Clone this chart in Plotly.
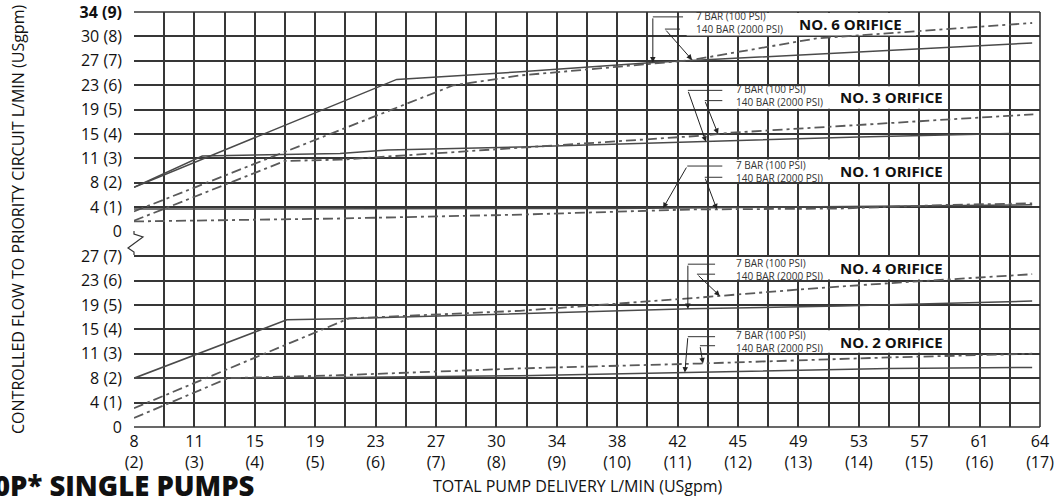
import numpy as np
import plotly.graph_objects as go

# ---------------- data (USgpm) ----------------
x_gpm_ticks = list(range(2, 18))
x_lpm_labels = ["8", "11", "15", "19", "23", "27", "30", "34", "38", "42",
                "45", "49", "53", "57", "61", "64"]
y_up_ticks = list(range(0, 10))
y_up_lpm = ["0", "4", "8", "11", "15", "19", "23", "27", "30", "34"]
y_low_ticks = list(range(0, 8))
y_low_lpm = ["0", "4", "8", "11", "15", "19", "23", "27"]

# upper panel: No. 6, No. 3, No. 1 orifices
no6_7bar_x = [2, 6.35, 8.4, 10.66, 16.87]
no6_7bar_y = [1.82, 6.24, 6.55, 6.94, 7.73]
no6_140bar_x = [2, 7.28, 8.39, 10.6, 11.2, 13.3, 16.87]
no6_140bar_y = [0.83, 5.99, 6.4, 6.9, 7.02, 7.92, 8.55]

no3_7bar_x = [2, 3.13, 5.41, 6.2, 8.39, 11.4, 14.0, 16.5]
no3_7bar_y = [1.82, 3.10, 3.2, 3.35, 3.47, 3.68, 3.88, 4.02]
no3_140bar_x = [2, 4.5, 5.41, 8.39, 11.37, 11.86, 16.89]
no3_140bar_y = [0.45, 2.9, 2.95, 3.45, 3.93, 4.05, 4.81]

no1_7bar_x = [2, 10.0, 16.87]
no1_7bar_y = [0.93, 0.95, 1.1]
no1_140bar_x = [2, 5.4, 8.4, 11.2, 13.7, 15.5, 16.87]
no1_140bar_y = [0.42, 0.54, 0.70, 0.91, 0.95, 1.1, 1.16]

# lower panel: No. 4, No. 2 orifices
no4_7bar_x = [2, 4.53, 5.41, 8.39, 11.2, 13.7, 16.87]
no4_7bar_y = [2.0, 4.39, 4.43, 4.63, 4.84, 4.96, 5.16]
no4_140bar_x = [2, 5.56, 8.39, 11.25, 13.1, 14.5, 16.87]
no4_140bar_y = [0.77, 4.45, 4.76, 5.28, 5.65, 5.89, 6.26]

no2_7bar_x = [2, 5.41, 8.39, 11.37, 14.5, 16.87]
no2_7bar_y = [2.0, 2.03, 2.1, 2.24, 2.4, 2.44]
no2_140bar_x = [2, 3.56, 5.41, 8.39, 11.37, 14.5, 16.87]
no2_140bar_y = [0.37, 2.0, 2.12, 2.4, 2.6, 2.85, 3.0]

# ---------------- styling ----------------
FONT = "Open Sans"
GRID = "#363636"
LINE = "#4a4a4a"
DASHDOT = "10px,4px,3px,4px"
W, H = 1055, 497
PL, PT, PR, PB = 134, 12, 1040, 427  # plot area in window pixels
ML, MT = PL, PT
PW, PH = PR - PL, PB - PT
MR, MB = W - ML - PW, H - MT - PH

fig = go.Figure()

panels = [
    ("y2", no6_7bar_x, no6_7bar_y, no6_140bar_x, no6_140bar_y),
    ("y2", no3_7bar_x, no3_7bar_y, no3_140bar_x, no3_140bar_y),
    ("y2", no1_7bar_x, no1_7bar_y, no1_140bar_x, no1_140bar_y),
    ("y", no4_7bar_x, no4_7bar_y, no4_140bar_x, no4_140bar_y),
    ("y", no2_7bar_x, no2_7bar_y, no2_140bar_x, no2_140bar_y),
]
for yax, sx, sy, dx, dy in panels:
    fig.add_trace(go.Scatter(x=sx, y=sy, yaxis=yax, mode="lines",
                             line=dict(color=LINE, width=1.5), showlegend=False,
                             hoverinfo="skip"))
    fig.add_trace(go.Scatter(x=dx, y=dy, yaxis=yax, mode="lines",
                             line=dict(color="#5a5a5a", width=1.8, dash=DASHDOT),
                             showlegend=False, hoverinfo="skip"))

shapes = []
annotations = []

labels = [
    ("y2", 11.15, 14.95, 8, 11.28, 12.98, "NO. 6 ORIFICE", 8.8, 8.3,
     (11.09, 10.59, 10.59), (11.04, 10.79, 11.24), 0),
    ("y2", 11.75, 15.45, 5, 11.95, 13.66, "NO. 3 ORIFICE", 5.79, 5.37,
     (11.74, 11.17, 11.47), (11.74, 11.45, 11.67), 1),
    ("y2", 11.75, 15.45, 2, 11.95, 13.66, "NO. 1 ORIFICE", 2.69, 2.23,
     (11.74, 11.16, 10.76), (11.74, 11.45, 11.65), 2),
    ("y", 11.75, 15.45, 6, 11.95, 13.66, "NO. 4 ORIFICE", 6.67, 6.26,
     (11.62, 11.17, 11.17), (11.62, 11.32, 11.70), 3),
    ("y", 11.75, 15.45, 3, 11.95, 13.66, "NO. 2 ORIFICE", 3.70, 3.33,
     (11.62, 11.17, 11.12), (11.62, 11.37, 11.42), 4),
]
for (yax, bx0, bx1, row, sx_t, bx_t, lab, y7, y140, l7, l140, idx) in labels:
    shapes.append(dict(type="rect", xref="x", yref=yax, x0=bx0, x1=bx1,
                       y0=row + 0.04, y1=row + 0.96, fillcolor="white",
                       line=dict(width=0), layer="between"))
    annotations.append(dict(xref="x", yref=yax, x=sx_t, y=(y7 + y140) / 2,
                            text="7 BAR (100 PSI)<br>140 BAR (2000 PSI)",
                            showarrow=False, xanchor="left", yanchor="middle",
                            align="left", borderpad=0,
                            font=dict(family=FONT, size=10, color="#333")))
    annotations.append(dict(xref="x", yref=yax, x=bx_t, y=row + 0.5,
                            text="<b>" + lab + "</b>", showarrow=False,
                            xanchor="left", yanchor="middle",
                            font=dict(family=FONT, size=15, color="#111")))
    _, sx, sy, dx, dy = panels[idx]
    for (xa, xb, xt), ty, cx, cy in ((l7, y7, sx, sy), (l140, y140, dx, dy)):
        shapes.append(dict(type="line", xref="x", yref=yax, x0=xa, x1=xb,
                           y0=ty, y1=ty, line=dict(color="#333", width=1)))
        annotations.append(dict(xref="x", yref=yax, axref="x", ayref=yax,
                                x=xt, y=float(np.interp(xt, cx, cy)),
                                ax=xb, ay=ty, text="", showarrow=True,
                                arrowhead=2, arrowsize=1.1, arrowwidth=1,
                                arrowcolor="#222", standoff=0))


def px(x):
    """window pixel x -> paper fraction"""
    return (x - PL) / PW


def py(y):
    """window pixel y -> paper fraction"""
    return (PB - y) / PH


# frame edges
for x0, x1, y0, y1 in ((0, 1, 1, 1), (1, 1, 0, 1), (0, 1, 0, 0)):
    shapes.append(dict(type="line", xref="paper", yref="paper", x0=x0, x1=x1,
                       y0=y0, y1=y1, line=dict(color=GRID, width=1.6)))

# axis break: hide left border in the gap row, draw zigzag
shapes.append(dict(type="rect", xref="paper", yref="paper",
                   x0=px(129), x1=px(137), y0=py(252), y1=py(234),
                   fillcolor="white", line=dict(width=0), layer="above"))
zig = [(134, 231), (134, 234), (143, 237), (128, 248), (134, 252), (134, 255)]
path = "M " + " L ".join(f"{px(a):.5f},{py(b):.5f}" for a, b in zig)
shapes.append(dict(type="path", xref="paper", yref="paper", path=path,
                   line=dict(color="#333", width=1.2)))

# axis titles & heading
annotations.append(dict(xref="paper", yref="paper", x=px(18), y=py(220),
                        text="CONTROLLED FLOW TO PRIORITY CIRCUIT L/MIN (USgpm)",
                        textangle=-90, showarrow=False, xanchor="center",
                        yanchor="middle",
                        font=dict(family=FONT, size=16, color="#111")))
annotations.append(dict(xref="paper", yref="paper", x=px(578), y=py(486),
                        text="TOTAL PUMP DELIVERY L/MIN (USgpm)", showarrow=False,
                        xanchor="center", yanchor="middle",
                        font=dict(family=FONT, size=16, color="#111")))
annotations.append(dict(xref="paper", yref="paper", x=px(256), y=py(465),
                        text="0P* SINGLE PUMPS", showarrow=False,
                        xanchor="right", yanchor="top",
                        font=dict(family=FONT, size=27.5, color="#111", weight=800)))

x_text = [f"{l}<br>({g})" for l, g in zip(x_lpm_labels, x_gpm_ticks)]
up_text = [("0" if g == 0 else f"{l} ({g})") for l, g in zip(y_up_lpm, y_up_ticks)]
up_text[-1] = "<b>" + up_text[-1] + "</b>"
low_text = [("0" if g == 0 else f"{l} ({g})") for l, g in zip(y_low_lpm, y_low_ticks)]

tickfont = dict(family=FONT, size=16, color="#111")
fig.update_layout(
    width=W, height=H, paper_bgcolor="white", plot_bgcolor="white",
    margin=dict(l=ML, r=MR, t=MT, b=MB, autoexpand=False),
    xaxis=dict(range=[2, 17], tickmode="array", tickvals=x_gpm_ticks,
               ticktext=x_text, showgrid=True, gridcolor=GRID, gridwidth=1.6,
               minor=dict(tick0=2, dtick=0.5, showgrid=True, gridcolor=GRID,
                          gridwidth=1.6),
               zeroline=False, ticks="", ticklabelstandoff=3, tickfont=tickfont,
               showline=False, fixedrange=True, automargin=False,
               ticklabeloverflow="allow"),
    yaxis=dict(domain=[0, 8 / 17], range=[0, 8], tickmode="array",
               tickvals=y_low_ticks, ticktext=low_text, showgrid=True,
               gridcolor=GRID, gridwidth=1.6,
               minor=dict(tickvals=[8], showgrid=True, gridcolor=GRID,
                          gridwidth=1.6),
               zeroline=False, ticks="", automargin=False,
               ticklabeloverflow="allow", fixedrange=True,
               ticklabelstandoff=11, tickfont=tickfont, anchor="x"),
    yaxis2=dict(domain=[8 / 17, 1], range=[0, 9], tickmode="array",
                tickvals=y_up_ticks, ticktext=up_text, showgrid=True,
                gridcolor=GRID, gridwidth=1.6, zeroline=False, ticks="",
                automargin=False, ticklabeloverflow="allow", fixedrange=True,
                ticklabelstandoff=11, tickfont=tickfont, anchor="x"),
    shapes=shapes, annotations=annotations,
)

# remove the default 8px page margin so the figure fills the window exactly
fig.write_html("out.html", config={"displayModeBar": False},
               post_script="document.body.style.margin='0px';")
